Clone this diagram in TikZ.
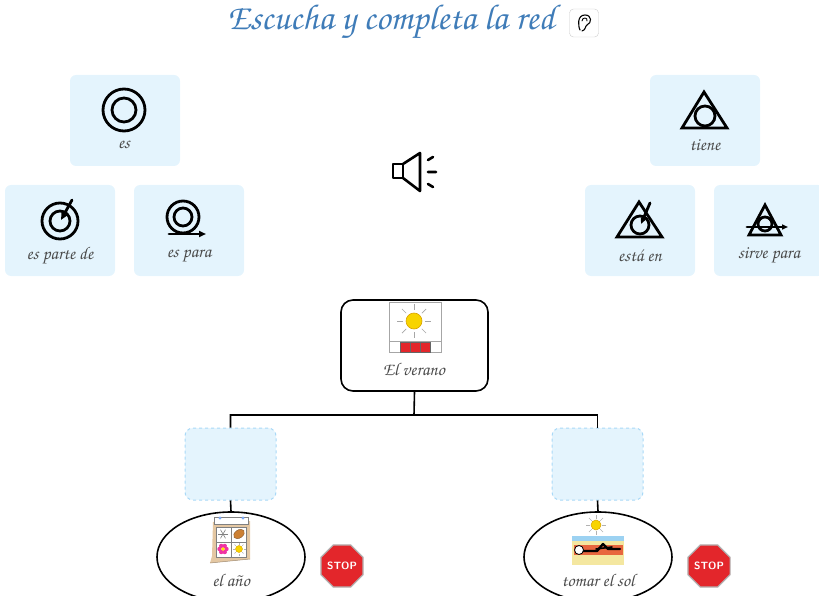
\documentclass[tikz,border=0pt]{standalone}
\usepackage[T1,TU]{fontenc}
\usepackage{tikz}
\usetikzlibrary{arrows.meta,shapes.geometric,positioning,calc}

\definecolor{tileblue}{HTML}{E4F4FD}
\definecolor{slotblue}{HTML}{A9D9F7}
\definecolor{titleblue}{HTML}{3F7CB8}
\definecolor{labelgray}{HTML}{4A4A4A}
\definecolor{sunyellow}{HTML}{F8D400}
\definecolor{sunedge}{HTML}{D9A300}
\definecolor{stopred}{HTML}{E3262B}
\definecolor{caltan}{HTML}{E4C7A2}
\definecolor{sand}{HTML}{F4E7A0}
\definecolor{sky}{HTML}{9CD2F2}
\definecolor{towel}{HTML}{E8663E}

\newcommand{\cursiva}{\fontencoding{T1}\fontfamily{pzc}\fontseries{mb}\fontshape{it}\selectfont}

\tikzset{
  tile/.style={fill=tileblue, rounded corners=6pt, minimum width=110pt, minimum height=91pt, inner sep=0pt},
  slot/.style={fill=tileblue, draw=slotblue, dashed, line width=1pt, rounded corners=8pt, minimum width=91pt, minimum height=72pt, inner sep=0pt},
  lbl/.style={font=\cursiva\fontsize{18}{19}\selectfont, text=labelgray, inner sep=0pt},
  icon/.style={line width=2.8pt, line cap=round},
  link/.style={line width=1.6pt},
  stopsign/.style={regular polygon, regular polygon sides=8, minimum size=37pt, fill=stopred, draw=gray!60, line width=1.2pt, text=white, inner sep=0pt, font=\sffamily\bfseries\fontsize{10.5}{10.5}\selectfont},
}

\begin{document}
\begin{tikzpicture}[x=1pt, y=-1pt]
\useasboundingbox (0,0) rectangle (819,596);
\clip (0,0) rectangle (819,596);
%
% Titulo
\node[font=\cursiva\fontsize{36}{38}\selectfont, text=titleblue, inner sep=0pt] (titulo) at (391,22) {Escucha y completa la red};
\node[draw=gray!40, fill=white, rounded corners=4pt, minimum width=29pt, minimum height=28pt] (oreja) at (584,23) {};
\draw[line width=1.1pt, line cap=round] (580,30) .. controls (578,26) and (577,15) .. (585,15)
  .. controls (592,15) and (592,23) .. (587,25) .. controls (585,26) and (586,30) .. (582,31);
\draw[line width=0.9pt, line cap=round] (582,21) .. controls (582,17) and (588,17) .. (587,21);
%
% Relaciones: es, es parte de, es para
\node[tile] (es) at (125,120.5) {};
\node[tile] (esparte) at (60,230.5) {};
\node[tile] (espara) at (189,230.5) {};
\node[lbl] (es-l) at (124,145) {es};
\node[lbl] (esparte-l) at (60,256) {es parte de};
\node[lbl] (espara-l) at (189,256) {es para};
\draw[icon] (124,110) circle (21) (124,110) circle (12);
\draw[icon] (60,221) circle (18) (60,221) circle (10);
\draw[icon, -{Triangle[length=7pt,width=6pt]}] (72,200) -- (61,220);
\draw[icon] (183,217) circle (16) (183,217) circle (9);
\draw[icon, -{Triangle[length=7pt,width=6pt]}] (169,234) -- (206,234);
%
% Relaciones: tiene, esta en, sirve para
\node[tile] (tiene) at (705,120.5) {};
\node[tile] (estaen) at (640,230.5) {};
\node[tile] (sirve) at (769,230.5) {};
\node[lbl] (tiene-l) at (705,145) {tiene};
\node[lbl] (estaen-l) at (640,256) {está en};
\node[lbl] (sirve-l) at (769,256) {sirve para};
\draw[icon, line join=miter] (704,92) -- (727,128) -- (682,128) -- cycle;
\draw[icon] (705,116) circle (10);
\draw[icon, line join=miter] (639,202) -- (662,237) -- (617,237) -- cycle;
\draw[icon] (640,225) circle (9);
\draw[icon, -{Triangle[length=6pt,width=5pt]}] (650,203) -- (641,224);
\draw[icon, line join=miter] (765,205) -- (781,235) -- (749,235) -- cycle;
\draw[icon] (765,224) circle (7);
\draw[icon, -{Triangle[length=6pt,width=5pt]}] (747,227) -- (788,227);
%
% Altavoz
\draw[line width=2.6pt, line join=round] (393,164) rectangle (403,178);
\draw[line width=2.6pt, line join=round] (403,164) -- (420,153) -- (420,191) -- (403,178);
\draw[line width=2.6pt, line cap=round] (428,160) -- (433,157) (428,172) -- (436,172) (428,184) -- (433,187);
%
% Nodo central
\node[draw, link, rounded corners=12pt, minimum width=147pt, minimum height=91pt] (verano) at (414.5,345.5) {};
\draw[gray!70, line width=0.8pt] (389,302) rectangle (441,352) (389,341) -- (441,341);
\foreach \a in {0,45,...,315}
  \draw[gray!70, line width=0.7pt] ($(414,321)+(\a:11)$) -- ($(414,321)+(\a:17)$);
\draw[sunedge, fill=sunyellow, line width=0.6pt] (414,321) circle (8);
\fill[stopred] (400,342) rectangle (430,352);
\draw[black!60, line width=0.5pt] (410,342) -- (410,352) (420,342) -- (420,352) (400,342) rectangle (430,352);
\node[lbl] (verano-l) at (414,369) {El verano};
%
% Casillas vacias
\node[slot] (hueco1) at (230.5,464) {};
\node[slot] (hueco2) at (597.5,464) {};
\coordinate (reparto) at (414,415);
\draw[link] (verano.south) -- (reparto) -| (hueco1.north);
\draw[link] (reparto) -| (hueco2.north);
%
% Conceptos
\node[draw, link, ellipse, minimum width=148pt, minimum height=90pt] (anio) at (231,557) {};
\node[draw, link, ellipse, minimum width=148pt, minimum height=90pt] (sol) at (598,557) {};
\draw[link] (hueco1.south) -- (anio.north);
\draw[link] (hueco2.south) -- (sol.north);
\node[lbl] (anio-l) at (231,580) {el año};
\node[lbl] (sol-l) at (598,580) {tomar el sol};
%
% Calendario
\fill[caltan] (213,522) -- (250,521) -- (250,559) -- (210,563) -- (212,556) -- cycle;
\draw[caltan!70!black, line width=0.5pt] (210,563) -- (250,559);
\draw[gray, fill=white, line width=0.5pt] (214,517) rectangle (248,524);
\fill[sky!80!blue] (220,518) circle (1.6) (243,518) circle (1.6);
\draw[gray, fill=white, line width=0.5pt] (216,527) rectangle (246,557);
\draw[gray, line width=0.5pt] (231,527) -- (231,557) (216,542) -- (246,542);
\foreach \a in {0,60,120}
  \draw[gray, line width=0.6pt] ($(223,534)+(\a:5)$) -- ($(223,534)+(\a+180:5)$);
\draw[brown!70!black, fill=brown!80!orange, rotate around={35:(239,534)}] (239,534) ellipse (6 and 4);
\foreach \a in {0,60,...,300}
  \fill[magenta!80] ($(223,549)+(\a:3.5)$) circle (2.2);
\fill[yellow!90!orange] (223,549) circle (1.8);
\draw[sunedge, fill=sunyellow] (239,549) circle (3.5);
\foreach \a in {0,45,...,315}
  \draw[gray!60, line width=0.4pt] ($(239,549)+(\a:4.5)$) -- ($(239,549)+(\a:6.5)$);
%
% Tomar el sol
\foreach \a in {0,45,...,315}
  \draw[gray!60, line width=0.6pt] ($(596,525)+(\a:6)$) -- ($(596,525)+(\a:10)$);
\draw[sunedge, fill=sunyellow, line width=0.5pt] (596,525) circle (5);
\fill[sand] (572,536) rectangle (624,565);
\fill[sky] (572,536) rectangle (624,541);
\fill[towel] (574,545) rectangle (623,555);
\draw[line width=2.4pt, line cap=round, line join=round] (582,551) -- (597,551) -- (603,544) -- (608,549) -- (620,549);
\draw[line width=1.6pt, line cap=round] (596,549) -- (612,547);
\draw[fill=white, line width=0.8pt] (579,550) circle (4.5);
%
% Senales de stop
\node[stopsign] (stop1) at (342,566) {STOP};
\node[stopsign] (stop2) at (709,566) {STOP};
\end{tikzpicture}
\end{document}
